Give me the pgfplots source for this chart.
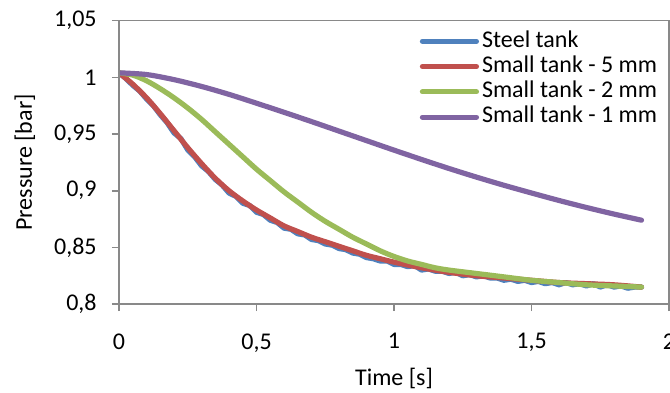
\documentclass[border=0pt]{standalone}
\usepackage{pgfplots}
\pgfplotsset{compat=1.18}
\usepackage{fontspec}
\setmainfont{Carlito}
\definecolor{xblue}{HTML}{4F81BD}
\definecolor{xred}{HTML}{C0504D}
\definecolor{xgreen}{HTML}{9BBB59}
\definecolor{xpurple}{HTML}{8064A2}
\definecolor{axgray}{HTML}{898989}
\begin{document}
\fontsize{12}{14.4}\selectfont
\begin{tikzpicture}
\begin{axis}[
  scale only axis, width=275pt, height=141.7pt,
  xmin=0, xmax=2, ymin=0.8, ymax=1.05,
  xtick={0,0.5,1,1.5,2}, ytick={0.8,0.85,0.9,0.95,1,1.05},
  scaled ticks=false,
  /pgf/number format/.cd, use comma, fixed, precision=2, assume math mode=true, /pgfplots/.cd,
  axis line style={axgray, line width=0.8pt},
  every tick/.style={axgray, line width=0.8pt},
  tick align=outside, major tick length=3.5pt,
  xtick pos=bottom, ytick pos=left,
  ticklabel style={font=\fontsize{12}{14.4}\selectfont, inner sep=0pt},
  yticklabel style={anchor=east, xshift=-7.5pt},
  xticklabel style={anchor=north, yshift=-11pt},
  xlabel={Time [s]}, ylabel={Pressure [bar]},
  label style={font=\fontsize{12}{14.4}\selectfont},
  xlabel style={at={(axis description cs:0.5,-0.261)}, anchor=center},
  ylabel style={at={(axis description cs:-0.171,0.5)}, anchor=center},
  legend cell align=left,
  legend style={draw=none, fill=none, at={(rel axis cs:0.547,0.972)}, anchor=north west,
    inner sep=0pt, outer sep=0pt, font=\fontsize{12}{14.4}\selectfont,
    nodes={inner sep=0pt, text height=9.2pt, text depth=3.45pt}, row sep=0pt, column sep=1.5pt},
  legend image code/.code={\draw[#1, line width=2.6pt, line cap=round] (0pt,0pt) -- (27pt,0pt);},
  every axis plot/.append style={line width=2.6pt, line cap=round, line join=round, no marks},
]
\addplot[xblue] coordinates {
(0,1.004) (0.025,0.999) (0.05,0.993) (0.075,0.988) (0.1,0.981) (0.125,0.975) (0.15,0.967) (0.175,0.960)
(0.2,0.951) (0.225,0.946) (0.25,0.936) (0.275,0.930) (0.3,0.922) (0.325,0.917) (0.35,0.910) (0.375,0.905)
(0.4,0.898) (0.425,0.895) (0.45,0.889) (0.475,0.887) (0.5,0.881) (0.525,0.879) (0.55,0.874) (0.575,0.872)
(0.6,0.867) (0.625,0.866) (0.65,0.862) (0.675,0.861) (0.7,0.857) (0.725,0.856) (0.75,0.853) (0.775,0.852)
(0.8,0.849) (0.825,0.848) (0.85,0.845) (0.875,0.844) (0.9,0.841) (0.925,0.840) (0.95,0.838) (0.975,0.838)
(1.0,0.835) (1.025,0.835) (1.05,0.833) (1.075,0.834) (1.1,0.830) (1.125,0.831) (1.15,0.829) (1.175,0.829)
(1.2,0.827) (1.225,0.828) (1.25,0.825) (1.275,0.826) (1.3,0.824) (1.325,0.825) (1.35,0.823) (1.375,0.823)
(1.4,0.821) (1.425,0.822) (1.45,0.820) (1.475,0.821) (1.5,0.819) (1.525,0.820) (1.55,0.818) (1.575,0.819)
(1.6,0.817) (1.625,0.819) (1.65,0.817) (1.675,0.818) (1.7,0.816) (1.725,0.818) (1.75,0.815) (1.775,0.817)
(1.8,0.815) (1.825,0.816) (1.85,0.814) (1.875,0.815) (1.9,0.815)
};
\addlegendentry{Steel tank}
\addplot[xred, smooth] coordinates {
(0,1.004) (0.05,0.994) (0.1,0.982) (0.15,0.968) (0.2,0.953) (0.25,0.938) (0.3,0.924) (0.35,0.911)
(0.4,0.900) (0.45,0.891) (0.5,0.883) (0.55,0.876) (0.6,0.869) (0.65,0.864) (0.7,0.859) (0.75,0.855)
(0.8,0.851) (0.85,0.847) (0.9,0.843) (0.95,0.840) (1.0,0.837) (1.1,0.832) (1.2,0.828) (1.3,0.825)
(1.4,0.823) (1.5,0.821) (1.6,0.819) (1.7,0.818) (1.8,0.817) (1.9,0.815)
};
\addlegendentry{Small tank - 5 mm}
\addplot[xgreen, smooth] coordinates {
(0,1.004) (0.05,1.002) (0.1,0.997) (0.15,0.990) (0.2,0.982) (0.25,0.973) (0.3,0.963) (0.35,0.952)
(0.4,0.941) (0.45,0.930) (0.5,0.919) (0.55,0.909) (0.6,0.899) (0.65,0.890) (0.7,0.881) (0.75,0.873)
(0.8,0.866) (0.85,0.859) (0.9,0.853) (0.95,0.847) (1.0,0.842) (1.05,0.838) (1.1,0.835) (1.15,0.832)
(1.2,0.830) (1.3,0.827) (1.4,0.824) (1.5,0.821) (1.6,0.819) (1.7,0.817) (1.8,0.816) (1.9,0.815)
};
\addlegendentry{Small tank - 2 mm}
\addplot[xpurple, smooth] coordinates {
(0,1.0040) (0.1,1.0025) (0.2,0.9980) (0.3,0.9920) (0.4,0.9850) (0.5,0.9772) (0.6,0.9692) (0.7,0.9610)
(0.8,0.9526) (0.9,0.9442) (1.0,0.9358) (1.1,0.9276) (1.2,0.9196) (1.3,0.9120) (1.4,0.9048) (1.5,0.8980)
(1.6,0.8914) (1.7,0.8852) (1.8,0.8794) (1.9,0.8740)
};
\addlegendentry{Small tank - 1 mm}
\end{axis}
\draw[axgray, line width=0.8pt] (current axis.north west) rectangle (current axis.south east);
\pgfresetboundingbox
\path[use as bounding box] ([xshift=-59.5pt,yshift=-44pt]current axis.south west) rectangle ([xshift=0.5pt,yshift=10.35pt]current axis.north east);
\end{tikzpicture}
\end{document}
